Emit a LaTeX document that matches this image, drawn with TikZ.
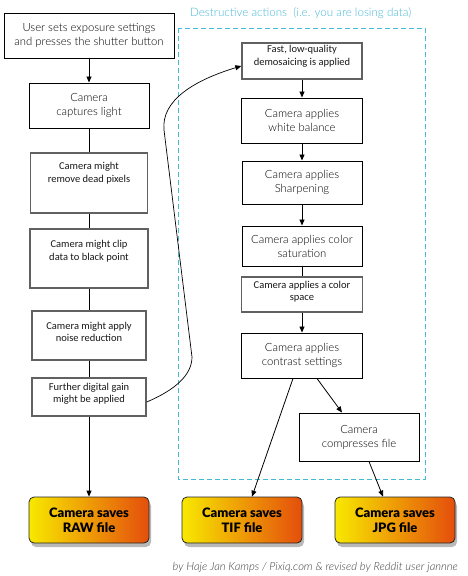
\documentclass[tikz,border=0pt]{standalone}
\usepackage{fontspec}
\usetikzlibrary{arrows.meta,shadows,calc}
\IfFontExistsTF{Lato Light}{\newfontfamily\lightfont{Lato Light}}{\newfontfamily\lightfont{Lato}}
\IfFontExistsTF{Lato Black}{\newfontfamily\heavyfont{Lato Black}}{\newfontfamily\heavyfontA{Lato}\newcommand\heavyfont{\heavyfontA\bfseries}}
\newfontfamily\carlito{Carlito}
\definecolor{dashcol}{RGB}{70,185,215}
\definecolor{savey}{RGB}{248,232,0}
\definecolor{saveo}{RGB}{228,78,12}
\tikzset{
 lbox/.style={draw=black, line width=1pt, font=\lightfont\fontsize{11.3}{14}\selectfont, text=black, align=center, inner sep=0pt},
 cbox/.style={draw=black!62, line width=1.4pt, inner sep=0pt},
 ctext/.style={font=\carlito\fontsize{10.5}{12.5}\selectfont, text=black!90, align=center, inner sep=0pt},
 savebox/.style={draw=black!85, line width=0.8pt, rounded corners=5pt, left color=savey, right color=saveo, minimum width=120pt, minimum height=46pt, font=\heavyfont\fontsize{13}{15}\selectfont, align=center, drop shadow={shadow xshift=2pt, shadow yshift=-4pt, opacity=0.55}},
 arr/.style={-{Triangle[length=6pt,width=5pt]}, line width=0.8pt},
 ln/.style={line width=0.8pt},
}
\begin{document}
\begin{tikzpicture}[x=1pt,y=-1pt]
\useasboundingbox (0,0) rectangle (468,576);
\fill[white] (0,0) rectangle (468,576);
% dashed region
\draw[dashcol, line width=0.8pt, dash pattern=on 5pt off 3pt] (178,28) rectangle (425,479);
\node[font=\lightfont\fontsize{11.6}{13}\selectfont, text=dashcol, anchor=west, inner sep=0pt] (title) at (190,13) {Destructive actions\ \ (i.e. you are losing data)};
% left column
\node[lbox, minimum width=170pt, minimum height=45pt] (user) at (89,35.5) {User sets exposure settings\\and presses the shutter button};
\node[lbox, minimum width=120pt, minimum height=45pt] (capt) at (89,105.5) {Camera\\captures light};
\node[cbox, minimum width=117pt, minimum height=60pt] (dead) at (89,183) {};
\node[ctext] (deadT) at (89,173) {Camera might\\remove dead pixels};
\node[cbox, minimum width=118pt, minimum height=59pt] (clip) at (89,258.5) {};
\node[ctext] (clipT) at (89,251) {Camera might clip\\data to black point};
\node[cbox, minimum width=114pt, minimum height=49pt] (noise) at (89,335.5) {};
\node[ctext] (noiseT) at (89,332) {Camera might apply\\noise reduction};
\node[cbox, minimum width=114pt, minimum height=38pt] (gain) at (89,397) {};
\node[ctext] (gainT) at (89,394) {Further digital gain\\might be applied};
\node[savebox] (raw) at (89,520) {Camera saves\\RAW file};
% right column
\node[cbox, minimum width=120pt, minimum height=36pt] (fast) at (302,61) {};
\node[ctext] (fastT) at (302,56.5) {Fast, low-quality\\demosaicing is applied};
\node[lbox, minimum width=121pt, minimum height=45pt] (wb) at (302,120.5) {Camera applies\\white balance};
\node[lbox, minimum width=120pt, minimum height=43pt] (sharp) at (302,182.5) {Camera applies\\Sharpening};
\node[lbox, minimum width=120pt, minimum height=40pt] (sat) at (302,246) {Camera applies color\\saturation};
\node[cbox, minimum width=121pt, minimum height=35pt] (space) at (302,294.5) {};
\node[ctext] (spaceT) at (302,291.5) {Camera applies a color\\space};
\node[lbox, minimum width=121pt, minimum height=45pt] (contrast) at (302,355.5) {Camera applies\\contrast settings};
\node[lbox, minimum width=120pt, minimum height=48pt] (compress) at (359,437) {Camera\\compresses file};
\node[savebox] (tif) at (242,520) {Camera saves\\TIF file};
\node[savebox] (jpg) at (395,520) {Camera saves\\JPG file};
% connectors
\draw[arr] (user.south) -- (capt.north);
\draw[ln] (capt.south) -- (dead.north);
\draw[ln] (dead.south) -- (clip.north);
\draw[ln] (clip.south) -- (noise.north);
\draw[ln] (noise.south) -- (gain.north);
\draw[arr] (gain.south) -- (raw.north);
\draw[arr] (fast.south) -- (wb.north);
\draw[arr] (wb.south) -- (sharp.north);
\draw[arr] (sharp.south) -- (sat.north);
\draw[ln] (sat.south) -- (space.north);
\draw[arr] (space.south) -- (contrast.north);
\draw[arr] ([xshift=-9pt]contrast.south) -- ([xshift=10pt]tif.north);
\draw[arr] ([xshift=15pt]contrast.south) -- ([xshift=-17pt]compress.north);
\draw[arr] ([xshift=10pt]compress.south) -- ([xshift=-12pt]jpg.north);
\draw[arr, line width=0.7pt] ([yshift=-5pt]gain.east) .. controls (175,390) and (192,375) .. (192,357) -- (164,130) .. controls (161,100) and (195,80) .. ([yshift=-5pt]fast.west);
% credit
\node[font=\lightfont\itshape\fontsize{11.2}{13}\selectfont, text=black!75, anchor=east, inner sep=0pt] (credit) at (458,567) {by Haje Jan Kamps / Pixiq.com \& revised by Reddit user jannne};
\end{tikzpicture}
\end{document}
